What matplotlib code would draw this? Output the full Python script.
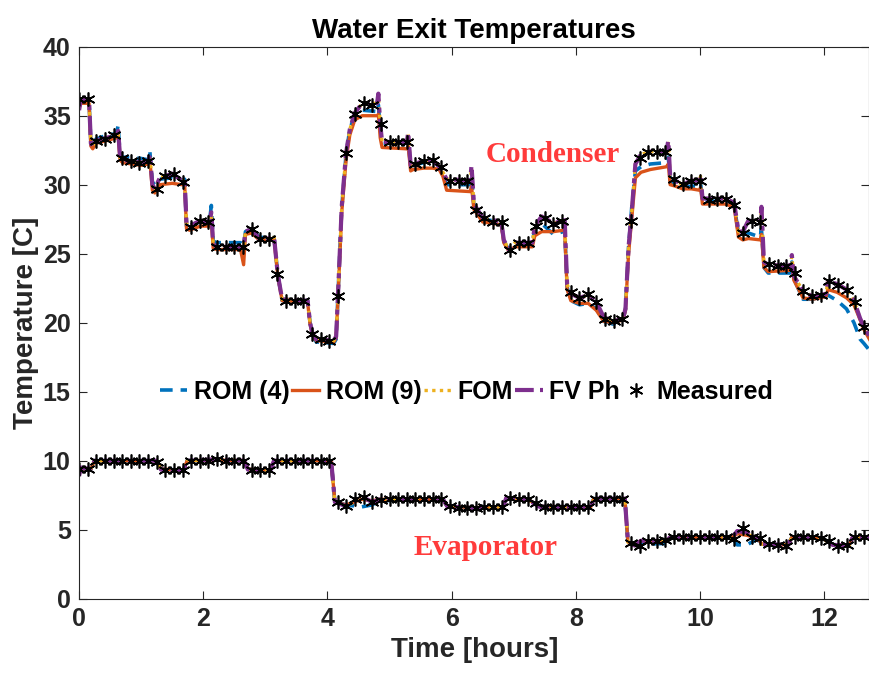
import numpy as np
import matplotlib
matplotlib.use('Agg')
import matplotlib.pyplot as plt
from matplotlib.lines import Line2D

# ---- measured exit temperatures, one sample every 500 s ----
SAMPLE_HOURS = 500 / 3600
cond_meas = [36.2, 36.2, 33.2, 33.3, 33.6, 31.9, 31.7, 31.6, 31.7, 29.7,
             30.65, 30.8, 30.2, 26.96, 27.4, 27.3, 25.5, 25.5, 25.5, 25.5,
             26.8, 26.07, 26.07, 23.5, 21.6, 21.6, 21.6, 19.2, 18.8, 18.7,
             21.96, 32.3, 35.1, 35.9, 35.8, 34.4, 33.07, 33.07, 33.07, 31.5,
             31.7, 31.8, 31.3, 30.3, 30.3, 30.3, 28.2, 27.6, 27.3, 27.3,
             25.3, 25.8, 25.8, 27.0, 27.6, 27.15, 27.4, 22.2, 21.8, 22.1,
             21.5, 20.3, 20.1, 20.3, 27.4, 31.9, 32.4, 32.4, 32.4, 30.4,
             30.05, 30.3, 30.3, 28.9, 29.0, 29.0, 28.5, 26.5, 27.4, 27.3,
             24.25, 24.1, 24.1, 23.6, 22.3, 21.9, 22.0, 23.0, 22.75, 22.4,
             21.5, 19.7]
evap_meas = [9.4, 9.4, 10.0, 10.0, 10.0, 10.0, 10.0, 10.0, 10.0, 9.9,
             9.35, 9.3, 9.3, 10.0, 10.0, 10.0, 10.1, 10.0, 10.0, 10.0,
             9.35, 9.3, 9.3, 10.0, 10.0, 10.0, 10.0, 10.0, 10.0, 10.0,
             7.0, 6.7, 7.2, 7.4, 7.0, 7.15, 7.2, 7.2, 7.2, 7.2,
             7.2, 7.2, 7.2, 6.7, 6.6, 6.6, 6.55, 6.65, 6.65, 6.65,
             7.3, 7.2, 7.2, 6.9, 6.65, 6.65, 6.65, 6.65, 6.65, 6.65,
             7.25, 7.25, 7.25, 7.25, 4.0, 3.85, 4.2, 4.2, 4.25, 4.45,
             4.45, 4.45, 4.45, 4.45, 4.45, 4.45, 4.3, 5.1, 4.5, 4.4,
             3.95, 3.9, 3.85, 4.45, 4.45, 4.45, 4.4, 4.15, 3.85, 3.9,
             4.45, 4.45]

# ---- model outputs (hours, degC) ----
cond_t = [0.00, 0.03, 0.16, 0.19, 0.22, 0.27, 0.45, 0.60, 0.63, 0.66,
          0.70, 1.00, 1.12, 1.14, 1.18, 1.22, 1.30, 1.50, 1.66, 1.70,
          1.73, 1.78, 1.95, 2.10, 2.13, 2.16, 2.22, 2.60, 2.65, 2.68,
          2.78, 2.90, 3.10, 3.14, 3.20, 3.27, 3.65, 3.68, 3.72, 3.76,
          3.82, 4.10, 4.14, 4.17, 4.23, 4.30, 4.36, 4.44, 4.56, 4.80,
          4.82, 4.85, 4.88, 5.28, 5.30, 5.34, 5.38, 5.55, 5.70, 5.80,
          5.86, 5.92, 6.30, 6.32, 6.36, 6.50, 6.80, 6.84, 6.92, 7.02,
          7.30, 7.34, 7.45, 7.64, 7.80, 7.82, 7.86, 7.92, 8.06, 8.20,
          8.33, 8.45, 8.60, 8.76, 8.80, 8.85, 8.90, 8.96, 9.05, 9.20,
          9.46, 9.49, 9.52, 9.60, 9.72, 9.86, 9.99, 10.01, 10.04, 10.15,
          10.40, 10.55, 10.62, 10.69, 10.78, 10.97, 10.99, 11.03, 11.10, 11.45,
          11.48, 11.51, 11.66, 11.81, 11.94, 12.03, 12.06, 12.21, 12.36, 12.48,
          12.58, 12.64, 12.73]
cond_fvph = [35.4, 36.2, 36.2, 33.0, 32.7, 33.2, 33.4, 33.6, 33.9, 32.0,
             31.8, 31.6, 31.7, 32.2, 30.0, 29.7, 30.5, 30.8, 30.3, 30.4,
             27.2, 27.0, 27.4, 27.3, 28.0, 25.7, 25.5, 25.5, 25.5, 26.6,
             26.8, 26.1, 26.1, 26.2, 23.5, 21.7, 21.6, 21.6, 20.0, 19.2,
             18.8, 18.7, 19.0, 22.0, 28.4, 32.3, 34.0, 35.2, 35.9, 35.9,
             36.6, 34.4, 33.1, 33.1, 33.8, 31.4, 31.5, 31.7, 31.8, 31.3,
             30.9, 30.4, 30.3, 31.4, 28.6, 27.6, 27.3, 26.0, 25.3, 25.8,
             25.8, 27.0, 27.7, 27.2, 27.4, 27.6, 22.8, 22.1, 21.8, 22.0,
             21.5, 20.4, 20.1, 20.3, 21.0, 25.5, 28.0, 31.5, 32.2, 32.4,
             32.4, 33.2, 30.6, 30.3, 30.0, 30.3, 30.3, 30.7, 29.0, 29.0,
             29.0, 28.7, 26.6, 26.6, 27.4, 27.3, 28.4, 24.4, 24.2, 24.1,
             24.9, 23.4, 22.3, 21.9, 22.0, 22.1, 23.0, 22.8, 22.4, 21.6,
             20.3, 19.7, 19.0]
cond_fom = [35.5, 36.2, 36.2, 33.0, 32.7, 33.2, 33.4, 33.6, 33.8, 32.0,
            31.8, 31.6, 31.7, 32.1, 30.0, 29.7, 30.5, 30.8, 30.3, 30.4,
            27.2, 27.0, 27.4, 27.3, 27.9, 25.7, 25.5, 25.5, 25.5, 26.6,
            26.8, 26.1, 26.1, 26.2, 23.5, 21.7, 21.6, 21.6, 20.0, 19.2,
            18.8, 18.7, 19.0, 22.0, 28.4, 32.3, 34.0, 35.2, 35.9, 35.9,
            36.4, 34.4, 33.1, 33.1, 33.7, 31.4, 31.5, 31.7, 31.8, 31.3,
            30.9, 30.4, 30.3, 31.2, 28.6, 27.6, 27.3, 26.0, 25.3, 25.8,
            25.8, 27.0, 27.7, 27.2, 27.4, 27.5, 22.8, 22.1, 21.8, 22.0,
            21.5, 20.4, 20.1, 20.3, 21.0, 25.5, 28.0, 31.5, 32.2, 32.4,
            32.4, 33.0, 30.6, 30.3, 30.0, 30.3, 30.3, 30.6, 29.0, 29.0,
            29.0, 28.7, 26.6, 26.6, 27.4, 27.3, 28.2, 24.4, 24.2, 24.1,
            24.8, 23.4, 22.3, 21.9, 22.0, 22.1, 23.0, 22.8, 22.4, 21.6,
            20.3, 19.7, 19.0]
cond_rom9 = [35.6, 35.9, 35.9, 32.8, 32.6, 33.0, 33.2, 33.4, 33.5, 31.8,
             31.6, 31.4, 31.5, 31.8, 29.6, 29.4, 30.0, 30.1, 30.0, 30.1,
             26.8, 26.7, 27.0, 27.0, 27.4, 25.4, 25.3, 25.3, 24.2, 26.4,
             26.5, 26.0, 26.0, 26.1, 23.4, 21.6, 21.5, 21.5, 19.9, 19.1,
             18.7, 18.6, 18.9, 21.8, 28.0, 31.8, 33.6, 34.7, 35.0, 35.0,
             35.1, 33.4, 32.7, 32.6, 32.8, 31.0, 31.1, 31.2, 31.2, 31.1,
             30.6, 29.6, 29.5, 29.9, 28.2, 27.3, 27.1, 25.8, 25.2, 25.5,
             25.5, 26.3, 26.6, 26.6, 26.7, 26.8, 22.4, 21.6, 21.4, 21.4,
             20.9, 20.1, 20.0, 20.2, 20.9, 25.0, 27.5, 30.5, 30.9, 31.1,
             31.3, 31.5, 30.0, 29.9, 29.7, 29.7, 29.6, 29.8, 28.6, 28.6,
             28.6, 28.4, 26.2, 26.0, 26.1, 26.0, 26.4, 24.0, 23.7, 23.8,
             24.3, 23.1, 21.8, 21.7, 21.8, 21.9, 22.4, 22.2, 21.8, 21.3,
             20.2, 19.5, 18.8]
cond_rom4 = [35.8, 36.1, 36.1, 33.0, 32.8, 33.3, 33.6, 33.7, 34.3, 32.1,
             32.0, 31.9, 31.8, 32.4, 30.2, 30.0, 30.4, 30.5, 30.3, 30.4,
             27.0, 27.0, 27.3, 27.3, 28.5, 25.9, 25.8, 25.8, 25.6, 26.6,
             26.8, 26.2, 26.1, 26.2, 23.5, 21.6, 21.6, 21.6, 20.0, 19.1,
             18.6, 18.5, 18.8, 22.0, 28.3, 32.2, 34.0, 35.1, 35.4, 35.3,
             35.8, 34.0, 33.0, 33.0, 33.4, 31.2, 31.4, 31.6, 31.7, 31.3,
             30.8, 30.0, 30.0, 30.6, 28.4, 27.5, 27.3, 25.9, 25.3, 25.7,
             25.8, 26.8, 27.2, 26.4, 26.6, 26.9, 22.6, 21.6, 21.3, 21.4,
             21.0, 20.1, 19.9, 20.2, 21.0, 25.5, 28.3, 31.0, 31.3, 31.5,
             31.6, 32.0, 30.3, 30.0, 29.8, 29.9, 29.9, 30.1, 28.8, 28.8,
             28.8, 28.5, 26.5, 26.5, 26.5, 26.2, 26.8, 24.0, 23.6, 23.6,
             24.4, 23.2, 21.7, 21.7, 21.8, 21.9, 22.0, 21.6, 21.0, 20.0,
             18.8, 18.5, 18.0]

evap_t = [0.00, 0.03, 0.19, 0.25, 1.24, 1.32, 1.68, 1.74, 2.20, 2.66,
          2.72, 3.08, 3.14, 4.06, 4.12, 4.30, 4.55, 4.72, 4.85, 5.86,
          5.93, 6.37, 6.83, 6.88, 7.22, 7.42, 8.24, 8.29, 8.79, 8.84,
          8.95, 9.05, 9.46, 9.52, 10.52, 10.60, 10.75, 10.92, 11.00, 11.42,
          11.48, 11.96, 12.14, 12.40, 12.46, 12.73]
evap_fvph = [8.9, 9.5, 9.4, 10.0, 10.0, 9.35, 9.3, 10.0, 10.1, 10.0,
             9.35, 9.3, 10.0, 10.0, 7.0, 6.7, 7.4, 7.0, 7.2, 7.2,
             6.7, 6.55, 6.65, 7.3, 7.2, 6.65, 6.65, 7.25, 7.25, 4.1,
             3.85, 4.2, 4.2, 4.45, 4.45, 4.9, 4.8, 4.4, 3.95, 3.9,
             4.45, 4.4, 3.9, 3.85, 4.45, 4.45]
evap_fom = [9.0, 9.5, 9.4, 10.0, 10.0, 9.35, 9.3, 10.0, 10.1, 10.0,
            9.35, 9.3, 10.0, 10.0, 7.0, 6.7, 7.3, 7.0, 7.2, 7.2,
            6.7, 6.55, 6.65, 7.3, 7.2, 6.65, 6.65, 7.25, 7.25, 4.1,
            3.85, 4.2, 4.2, 4.45, 4.45, 4.8, 4.7, 4.4, 3.95, 3.9,
            4.45, 4.4, 3.9, 3.85, 4.45, 4.45]
evap_rom9 = [9.3, 9.4, 9.4, 10.0, 10.0, 9.4, 9.3, 10.0, 10.05, 10.0,
             9.4, 9.3, 10.0, 10.0, 7.0, 6.8, 7.2, 7.1, 7.2, 7.2,
             6.7, 6.6, 6.65, 7.25, 7.2, 6.7, 6.65, 7.25, 7.25, 4.1,
             3.9, 4.2, 4.2, 4.45, 4.45, 4.7, 4.6, 4.4, 3.95, 3.9,
             4.45, 4.4, 3.9, 3.85, 4.45, 4.45]
evap_rom4 = [9.4, 9.4, 9.4, 10.0, 10.0, 9.4, 9.3, 10.0, 10.05, 10.0,
             9.4, 9.3, 10.0, 10.0, 7.0, 6.8, 6.65, 6.8, 7.1, 7.2,
             6.7, 6.6, 6.65, 7.25, 7.2, 6.7, 6.65, 7.25, 7.25, 4.1,
             3.9, 3.95, 4.0, 4.4, 4.4, 3.9, 3.9, 4.3, 3.95, 3.9,
             4.45, 4.4, 3.9, 3.85, 4.45, 4.45]

X_LIM = (0, 12.73)
Y_LIM = (0, 40)
X_TICKS = [0, 2, 4, 6, 8, 10, 12]
Y_TICKS = [0, 5, 10, 15, 20, 25, 30, 35, 40]

plt.rcParams['font.family'] = ['Liberation Sans', 'DejaVu Sans']
plt.rcParams['font.weight'] = 'bold'
plt.rcParams['axes.labelweight'] = 'bold'
plt.rcParams['axes.titleweight'] = 'bold'

C_ROM4 = '#0072BD'
C_ROM9 = '#D95319'
C_FOM = '#EDB120'
C_FV = '#7E2F8E'
AX_COL = '#262626'

DASH_ROM4 = (0, (3.5, 2.2))
DOT_FOM = (0, (1, 1.3))
DASHDOT_FV = (0, (4.5, 1.5, 1.2, 1.5))

fig = plt.figure(figsize=(8.7, 6.79), dpi=100)
ax = fig.add_axes([0.0909, 0.1183, 0.9085, 0.8129])

meas_t = np.arange(len(cond_meas)) * SAMPLE_HOURS

for t, r4, r9, fom, fv in [(cond_t, cond_rom4, cond_rom9, cond_fom, cond_fvph),
                           (evap_t, evap_rom4, evap_rom9, evap_fom, evap_fvph)]:
    ax.plot(t, r4, color=C_ROM4, lw=2.6, ls=DASH_ROM4)
    ax.plot(t, r9, color=C_ROM9, lw=2.4, ls='-')
    ax.plot(t, fom, color=C_FOM, lw=2.4, ls=DOT_FOM)
    ax.plot(t, fv, color=C_FV, lw=3.0, ls=DASHDOT_FV)

# six-armed asterisk with a small dot in the middle
for vals in (cond_meas, evap_meas):
    ax.plot(meas_t, vals, ls='none', marker=(6, 2, 0), ms=10, mew=1.2,
            color='black')
    ax.plot(meas_t, vals, ls='none', marker='.', ms=5, color='black')

ax.set_xlim(*X_LIM)
ax.set_ylim(*Y_LIM)
ax.set_xticks(X_TICKS)
ax.set_yticks(Y_TICKS)
ax.tick_params(direction='in', top=True, right=True, length=6, width=0.8,
               colors=AX_COL, labelsize=18, pad=6)
for sp in ax.spines.values():
    sp.set_color(AX_COL)
    sp.set_linewidth(0.8)

ax.set_xlabel('Time [hours]', fontsize=20, color=AX_COL, labelpad=4)
ax.set_ylabel('Temperature [C]', fontsize=20, color=AX_COL, labelpad=3)
ax.set_title('Water Exit Temperatures', fontsize=20, color='black', pad=6)

ax.text(7.63, 32.2, 'Condenser', color='#FF3B3B', fontsize=21,
        family='Liberation Serif', fontweight='bold', ha='center', va='center')
ax.text(6.54, 3.7, 'Evaporator', color='#FF3B3B', fontsize=21,
        family='Liberation Serif', fontweight='bold', ha='center', va='center')

handles = [
    Line2D([], [], color=C_ROM4, lw=2.6, ls=DASH_ROM4),
    Line2D([], [], color=C_ROM9, lw=2.4),
    Line2D([], [], color=C_FOM, lw=2.4, ls=DOT_FOM),
    Line2D([], [], color=C_FV, lw=3.0, ls=DASHDOT_FV),
    Line2D([], [], ls='none', marker=(6, 2, 0), ms=10, mew=1.2, color='black'),
]
labels = ['ROM (4)', 'ROM (9)', 'FOM', 'FV Ph', 'Measured']
ax.legend(handles, labels, loc='center', bbox_to_anchor=(0.49, 0.374),
          ncol=5, frameon=False, fontsize=18, handlelength=1.1,
          handletextpad=0.25, columnspacing=0.1, borderpad=0.2)

fig.savefig('out.png', dpi=100)
